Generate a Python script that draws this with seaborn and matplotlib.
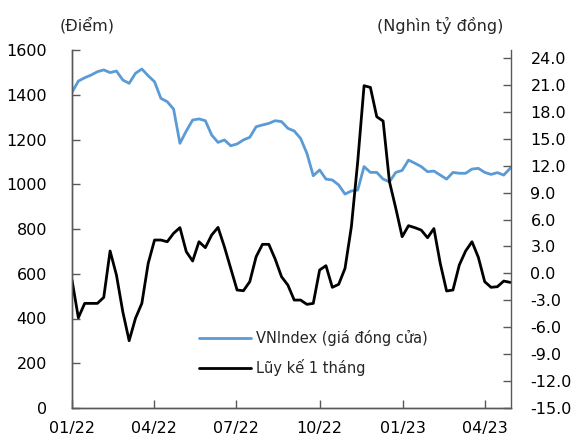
import matplotlib
matplotlib.use("Agg")
import matplotlib.pyplot as plt
import matplotlib.dates as mdates
from matplotlib.ticker import FixedLocator, FuncFormatter
import seaborn as sns
import pandas as pd

# ---- data (weekly) ----
dates = pd.date_range("2022-01-01", periods=70, freq="7D")

vnindex = [1411, 1461, 1476, 1488, 1503, 1511, 1499, 1506, 1466, 1451,
           1496, 1515, 1485, 1458, 1384, 1369, 1336, 1183, 1238, 1287,
           1292, 1284, 1220, 1187, 1198, 1172, 1180, 1198, 1210, 1257,
           1265, 1272, 1284, 1280, 1250, 1238, 1205, 1138, 1038, 1064,
           1023, 1019, 997, 956, 970, 974, 1079, 1053, 1053, 1023,
           1011, 1053, 1062, 1108, 1094, 1079, 1056, 1059, 1041, 1023,
           1053, 1049, 1049, 1068, 1071, 1053, 1044, 1052, 1041, 1071]

luyke = [-0.74, -4.94, -3.34, -3.34, -3.34, -2.67, 2.5, -0.18, -4.27, -7.5,
         -5.0, -3.34, 1.12, 3.72, 3.72, 3.53, 4.47, 5.1, 2.42, 1.38,
         3.53, 2.87, 4.28, 5.13, 2.97, 0.56, -1.85, -1.93, -0.92, 1.86,
         3.24, 3.24, 1.6, -0.37, -1.3, -2.97, -2.97, -3.45, -3.34, 0.38,
         0.86, -1.55, -1.22, 0.56, 5.2, 12.45, 20.92, 20.73, 17.46, 16.98,
         10.22, 7.25, 4.09, 5.32, 5.1, 4.83, 3.98, 5.0, 1.12, -1.96,
         -1.85, 0.94, 2.5, 3.53, 1.79, -0.92, -1.55, -1.48, -0.85, -1.0]

left_ticks = [0, 200, 400, 600, 800, 1000, 1200, 1400, 1600]
right_ticks = [-15, -12, -9, -6, -3, 0, 3, 6, 9, 12, 15, 18, 21, 24]
x_ticks = ["2022-01-01", "2022-04-01", "2022-07-01", "2022-10-01", "2023-01-01", "2023-04-01"]

label_vn = "VNIndex (giá đóng cửa)"
label_lk = "Lũy kế 1 tháng"

df = pd.DataFrame({"date": dates, "vnindex": vnindex, "luyke": luyke})

sns.set_theme(style="white")
plt.rcParams["font.family"] = ["DejaVu Sans"]
plt.rcParams["axes.unicode_minus"] = False

FS = 11.5
AXC = "#595959"

fig = plt.figure(figsize=(5.75, 4.38), dpi=100)
ax = fig.add_axes([72/575, 1-408/438, (511-72)/575, (408-50)/438])
ax2 = ax.twinx()

sns.lineplot(data=df, x="date", y="vnindex", ax=ax, color="#5B9BD5",
             linewidth=2.0, label=label_vn, legend=False)
sns.lineplot(data=df, x="date", y="luyke", ax=ax2, color="black",
             linewidth=2.0, label=label_lk, legend=False)

ax.set_ylim(0, 1600)
ax2.set_ylim(-15, 24.9)
ax.set_xlim(pd.Timestamp("2022-01-01"), pd.Timestamp("2023-04-30"))

ax.yaxis.set_major_locator(FixedLocator(left_ticks))
ax2.yaxis.set_major_locator(FixedLocator(right_ticks))
ax2.yaxis.set_major_formatter(FuncFormatter(lambda v, p: f"{v:.1f}"))
ax.set_xticks([mdates.date2num(pd.Timestamp(t)) for t in x_ticks])
ax.xaxis.set_major_formatter(mdates.DateFormatter("%m/%y"))

for a in (ax, ax2):
    a.set_xlabel("")
    a.set_ylabel("")
    a.spines["top"].set_visible(False)
    for s in ("left", "right", "bottom"):
        a.spines[s].set_color(AXC)
        a.spines[s].set_linewidth(1.0)
    a.tick_params(axis="both", direction="in", length=6, width=1.0,
                  color=AXC, labelsize=FS, labelcolor="black")
    a.grid(False)

ax.tick_params(axis="y", left=True, pad=18)
ax.tick_params(axis="x", bottom=True, pad=9)
ax2.tick_params(axis="y", right=True, pad=14)
ax.spines["right"].set_visible(False)

fig.text(60/575, 1-25/438, "(Điểm)", fontsize=FS, ha="left", va="center")
fig.text(377/575, 1-25/438, "(Nghìn tỷ đồng)", fontsize=FS, ha="left", va="center")

h1, l1 = ax.get_legend_handles_labels()
h2, l2 = ax2.get_legend_handles_labels()
ax2.legend(h1 + h2, l1 + l2, loc="center left",
           bbox_to_anchor=(193/575, 1-353/438), bbox_transform=fig.transFigure,
           frameon=False, fontsize=10.5, handlelength=3.6, handletextpad=0.33,
           labelspacing=0.9, borderaxespad=0)

fig.savefig("out.png", dpi=100)
